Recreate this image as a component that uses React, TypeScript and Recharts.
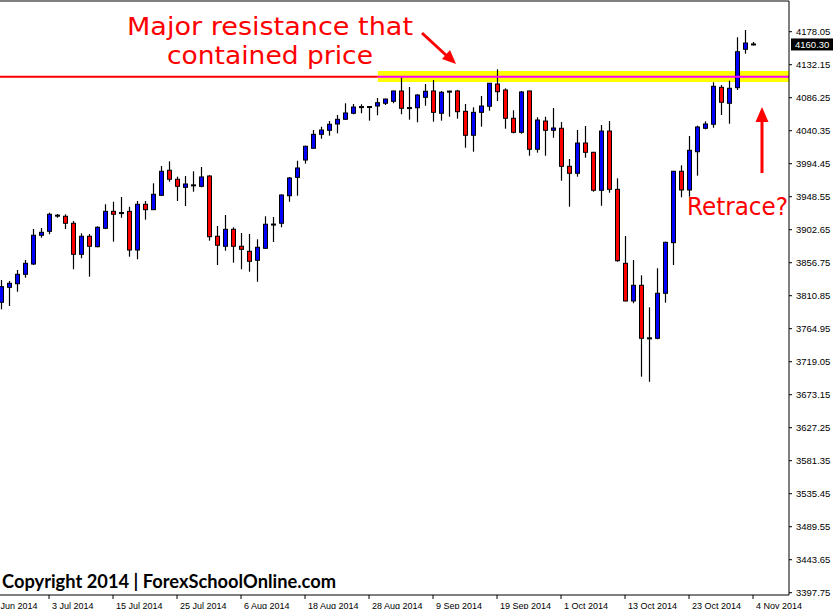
import React from "react";
import {
  ComposedChart,
  Bar,
  XAxis,
  YAxis,
  ReferenceLine,
  ReferenceArea,
} from "recharts";

// daily bars, 25 Jun 2014 - 4 Nov 2014
const dates = [
  "25 Jun 2014", "26 Jun 2014", "27 Jun 2014", "30 Jun 2014", "1 Jul 2014",
  "2 Jul 2014", "3 Jul 2014", "4 Jul 2014", "7 Jul 2014", "8 Jul 2014",
  "9 Jul 2014", "10 Jul 2014", "11 Jul 2014", "14 Jul 2014", "15 Jul 2014",
  "16 Jul 2014", "17 Jul 2014", "18 Jul 2014", "21 Jul 2014", "22 Jul 2014",
  "23 Jul 2014", "24 Jul 2014", "25 Jul 2014", "28 Jul 2014", "29 Jul 2014",
  "30 Jul 2014", "31 Jul 2014", "1 Aug 2014", "4 Aug 2014", "5 Aug 2014",
  "6 Aug 2014", "7 Aug 2014", "8 Aug 2014", "11 Aug 2014", "12 Aug 2014",
  "13 Aug 2014", "14 Aug 2014", "15 Aug 2014", "18 Aug 2014", "19 Aug 2014",
  "20 Aug 2014", "21 Aug 2014", "22 Aug 2014", "25 Aug 2014", "26 Aug 2014",
  "27 Aug 2014", "28 Aug 2014", "29 Aug 2014", "1 Sep 2014", "2 Sep 2014",
  "3 Sep 2014", "4 Sep 2014", "5 Sep 2014", "8 Sep 2014", "9 Sep 2014",
  "10 Sep 2014", "11 Sep 2014", "12 Sep 2014", "15 Sep 2014", "16 Sep 2014",
  "17 Sep 2014", "18 Sep 2014", "19 Sep 2014", "22 Sep 2014", "23 Sep 2014",
  "24 Sep 2014", "25 Sep 2014", "26 Sep 2014", "29 Sep 2014", "30 Sep 2014",
  "1 Oct 2014", "2 Oct 2014", "3 Oct 2014", "6 Oct 2014", "7 Oct 2014",
  "8 Oct 2014", "9 Oct 2014", "10 Oct 2014", "13 Oct 2014", "14 Oct 2014",
  "15 Oct 2014", "16 Oct 2014", "17 Oct 2014", "20 Oct 2014", "21 Oct 2014",
  "22 Oct 2014", "23 Oct 2014", "24 Oct 2014", "27 Oct 2014", "28 Oct 2014",
  "29 Oct 2014", "30 Oct 2014", "31 Oct 2014", "3 Nov 2014", "4 Nov 2014",
];

const opens = [
  3801.7, 3822.5, 3827.5, 3840.6, 3854.9, 3894.9, 3900.4, 3922.7, 3921.3, 3911.6,
  3868.4, 3893.5, 3879.0, 3904.6, 3928.2, 3926.0, 3928.2, 3874.4, 3938.0, 3930.5,
  3950.5, 3985.3, 3972.8, 3961.6, 3964.6, 3963.0, 3977.3, 3893.5, 3879.6, 3903.2,
  3879.6, 3872.6, 3860.1, 3876.8, 3910.0, 3911.6, 3949.9, 3975.5, 3999.6, 4015.9,
  4035.3, 4040.9, 4049.7, 4056.2, 4064.6, 4073.5, 4074.0, 4074.7, 4078.5, 4081.2,
  4095.6, 4072.1, 4072.3, 4086.8, 4095.6, 4064.6, 4095.0, 4095.6, 4067.3, 4034.0,
  4065.9, 4074.3, 4105.3, 4097.0, 4057.6, 4038.1, 4095.6, 4014.5, 4053.8, 4040.9,
  4043.7, 3990.8, 3981.1, 4023.2, 4010.3, 3957.5, 4039.9, 3958.8, 3855.9, 3803.5,
  3825.3, 3751.8, 3751.6, 3814.2, 3884.6, 3983.9, 3957.9, 4011.1, 4043.7, 4049.3,
  4100.7, 4078.5, 4100.2, 4153.6, 4161.0,
];

const highs = [
  3832.7, 3831.3, 3846.6, 3860.5, 3903.6, 3905.0, 3926.3, 3924.5, 3924.1, 3914.8,
  3897.6, 3896.7, 3907.4, 3938.0, 3941.6, 3948.1, 3934.6, 3942.6, 3942.6, 3967.2,
  3991.3, 3997.8, 3976.4, 3977.3, 3983.9, 3989.9, 3978.5, 3907.8, 3923.1, 3906.0,
  3898.1, 3896.7, 3889.3, 3921.3, 3920.3, 3951.9, 3976.0, 3998.6, 4019.5, 4041.3,
  4045.9, 4053.8, 4062.2, 4078.5, 4077.5, 4077.1, 4074.5, 4085.8, 4084.8, 4096.0,
  4114.6, 4101.1, 4091.0, 4105.3, 4110.9, 4095.6, 4096.0, 4097.0, 4077.5, 4072.9,
  4088.6, 4106.8, 4125.8, 4099.3, 4068.7, 4095.6, 4096.0, 4059.0, 4059.8, 4071.9,
  4052.5, 4001.0, 4041.3, 4046.9, 4011.0, 4048.3, 4053.8, 3974.1, 3893.9, 3860.5,
  3839.2, 3794.7, 3849.0, 3886.0, 3984.5, 3992.2, 4033.0, 4047.3, 4053.4, 4107.7,
  4103.9, 4109.9, 4170.3, 4180.4, 4163.7,
];

const lows = [
  3791.9, 3796.5, 3816.4, 3835.9, 3853.5, 3891.5, 3896.3, 3919.3, 3903.6, 3847.6,
  3862.9, 3837.3, 3878.2, 3903.5, 3886.0, 3919.3, 3865.1, 3861.5, 3916.6, 3930.0,
  3949.5, 3969.4, 3942.6, 3935.6, 3955.5, 3961.6, 3887.4, 3853.5, 3873.4, 3856.8,
  3847.6, 3844.2, 3830.3, 3876.0, 3885.5, 3906.0, 3941.6, 3949.9, 3994.5, 4015.5,
  4029.2, 4033.4, 4036.7, 4055.2, 4063.2, 4064.6, 4054.3, 4061.8, 4076.1, 4078.5,
  4063.2, 4055.7, 4052.0, 4075.1, 4052.9, 4054.3, 4059.8, 4057.0, 4016.7, 4011.1,
  4045.9, 4068.2, 4081.6, 4043.1, 4036.7, 4036.2, 4005.6, 4009.8, 4005.6, 4030.6,
  3970.8, 3934.6, 3976.4, 4002.8, 3955.5, 3936.0, 3954.1, 3858.1, 3803.0, 3800.3,
  3698.2, 3691.2, 3750.2, 3801.1, 3853.5, 3947.7, 3948.6, 3977.8, 4042.3, 4044.5,
  4062.2, 4050.1, 4097.0, 4147.5, 4159.1,
];

const closes = [
  3823.4, 3828.1, 3840.6, 3855.9, 3894.9, 3899.0, 3924.1, 3922.9, 3911.6, 3868.4,
  3893.5, 3879.6, 3906.0, 3928.2, 3924.1, 3926.5, 3874.4, 3938.0, 3930.5, 3951.9,
  3983.9, 3972.8, 3963.0, 3966.2, 3965.0, 3976.0, 3892.9, 3881.0, 3903.2, 3879.6,
  3875.4, 3858.7, 3878.2, 3910.2, 3910.5, 3950.9, 3974.6, 3988.5, 4018.7, 4035.3,
  4041.3, 4049.3, 4056.2, 4065.0, 4073.3, 4073.9, 4073.2, 4079.3, 4084.4, 4095.6,
  4071.5, 4072.5, 4090.0, 4095.2, 4065.9, 4093.8, 4095.4, 4066.8, 4034.0, 4065.9,
  4074.7, 4106.3, 4094.6, 4057.6, 4038.1, 4094.2, 4014.5, 4055.2, 4040.9, 4044.1,
  3990.8, 3981.1, 4023.2, 4010.3, 3957.5, 4039.9, 3958.8, 3859.5, 3803.5, 3825.3,
  3751.6, 3752.2, 3814.2, 3885.1, 3983.9, 3957.9, 4013.1, 4045.5, 4049.7, 4102.1,
  4079.9, 4099.3, 4150.2, 4162.3, 4160.3,
];

const yTicks = [
  3397.75, 3443.65, 3489.55, 3535.45, 3581.35, 3627.25, 3673.15, 3719.05, 3764.95,
  3810.85, 3856.75, 3902.65, 3948.55, 3994.45, 4040.35, 4086.25, 4132.15, 4178.05,
];

const xTickLabels = [
  "23 Jun 2014", "3 Jul 2014", "15 Jul 2014", "25 Jul 2014", "6 Aug 2014",
  "18 Aug 2014", "28 Aug 2014", "9 Sep 2014", "19 Sep 2014", "1 Oct 2014",
  "13 Oct 2014", "23 Oct 2014", "4 Nov 2014",
];

const lastPrice = 4160.3;
const resistance = 4115.5;
const zoneLow = 4108.1;
const zoneHigh = 4123.4;
const zoneStart = 47.1; // bar position where the highlighted zone starts

const xDomain = [-0.125, 98.5];
const yDomain = [3394.55, 4220.75];

// one label every 8 bars, first one is two bars before the first visible candle
const xTicks = xTickLabels.map((_, i) => (i - 1) * 8 + 6);

const candles = dates.map((d, i) => ({
  i,
  date: d,
  open: opens[i],
  high: highs[i],
  low: lows[i],
  close: closes[i],
}));

const Candle = (props: any) => {
  const { x, y, width, height, payload } = props;
  if (!payload || height == null) return null;
  const { open, high, low, close } = payload;
  const cx = Math.round(x + width / 2) + 0.5;
  const k = high > low ? height / (high - low) : 0;
  const yO = y + (high - open) * k;
  const yC = y + (high - close) * k;
  const top = Math.min(yO, yC);
  const h = Math.max(Math.abs(yO - yC), 1);
  const fill = close > open ? "#0000ff" : close < open ? "#ff0000" : "#000000";
  return (
    <g>
      <line x1={cx} x2={cx} y1={y} y2={y + height} stroke="#000" strokeWidth={1.2} />
      <rect x={cx - 2} y={top} width={4} height={h} fill={fill} stroke="#000" strokeWidth={1} />
    </g>
  );
};

const DateTick = (props: any) => {
  const { x, y, payload } = props;
  const label = xTickLabels[xTicks.indexOf(payload.value)];
  return (
    <text x={x + 3} y={y + 7.5} fontSize={9} fontFamily="Liberation Sans" fill="#000" textAnchor="start">
      {label}
    </text>
  );
};

const PriceTick = (props: any) => {
  const { x, y, payload } = props;
  return (
    <text x={x} y={y + 3.5} fontSize={9.5} fontFamily="Liberation Sans" fill="#000" textAnchor="start">
      {Number(payload.value).toFixed(2)}
    </text>
  );
};

const PriceTag = (props: any) => {
  const vb = props.viewBox || {};
  const x = (vb.x || 0) + (vb.width || 0) + 2;
  const y = vb.y || 0;
  return (
    <g>
      <rect x={x} y={y - 6} width={44} height={12} fill="#000" />
      <text x={x + 4} y={y + 3.5} fontSize={9.5} fontFamily="Liberation Sans" fill="#fff">
        {lastPrice.toFixed(2)}
      </text>
    </g>
  );
};

const App = () => {
  return (
    <div style={{ position: "absolute", left: 0, top: 0, width: 833, height: 609, background: "#fff" }}>
      <ComposedChart
        width={833}
        height={609}
        data={candles}
        margin={{ top: 1, right: 0, bottom: 0, left: 0 }}
      >
        <XAxis
          dataKey="i"
          type="number"
          domain={xDomain}
          allowDataOverflow
          ticks={xTicks}
          interval={0}
          tick={<DateTick />}
          tickSize={4}
          height={14}
          axisLine={{ stroke: "#000" }}
          tickLine={{ stroke: "#000" }}
        />
        <YAxis
          orientation="right"
          type="number"
          domain={yDomain}
          allowDataOverflow
          ticks={yTicks}
          interval={0}
          width={44}
          tickSize={3}
          tickMargin={4}
          tick={<PriceTick />}
          axisLine={{ stroke: "#000" }}
          tickLine={{ stroke: "#000" }}
        />
        <ReferenceLine y={yDomain[1]} stroke="#000" />
        <ReferenceArea
          x1={zoneStart}
          x2={xDomain[1]}
          y1={zoneLow}
          y2={zoneHigh}
          fill="#ffff00"
          fillOpacity={1}
          stroke="none"
        />
        <ReferenceLine
          segment={[
            { x: xDomain[0], y: resistance },
            { x: zoneStart, y: resistance },
          ]}
          stroke="#ff0000"
          strokeWidth={2}
        />
        <ReferenceLine
          segment={[
            { x: zoneStart, y: resistance },
            { x: xDomain[1], y: resistance },
          ]}
          stroke="#ff00ff"
          strokeWidth={2}
        />
        <Bar
          dataKey={(d: any) => [d.low, d.high]}
          barSize={5}
          shape={(p: any) => <Candle {...p} />}
          isAnimationActive={false}
        />
        <ReferenceLine y={lastPrice} stroke="none" label={(p: any) => <PriceTag {...p} />} />
      </ComposedChart>

      <svg
        width={833}
        height={609}
        style={{ position: "absolute", left: 0, top: 0, pointerEvents: "none" }}
      >
        <g fill="#ff0000" fontFamily="DejaVu Sans" fontSize={25}>
          <text x={127} y={35} textLength={286} lengthAdjust="spacingAndGlyphs">
            Major resistance that
          </text>
          <text x={167} y={64} textLength={206} lengthAdjust="spacingAndGlyphs">
            contained price
          </text>
          <text x={687} y={215} textLength={101} lengthAdjust="spacingAndGlyphs">
            Retrace?
          </text>
        </g>
        <line x1={422} y1={33} x2={448} y2={57} stroke="#ff0000" strokeWidth={3} />
        <polygon points="456,64 442,59 450,50" fill="#ff0000" />
        <line x1={762} y1={173} x2={762} y2={118} stroke="#ff0000" strokeWidth={3} />
        <polygon points="762,107 755.5,122 768.5,122" fill="#ff0000" />
        <text
          x={2}
          y={588}
          fontFamily="Lato"
          fontWeight={700}
          fontSize={18}
          fill="#000"
          textLength={334}
          lengthAdjust="spacingAndGlyphs"
        >
          Copyright 2014 | ForexSchoolOnline.com
        </text>
      </svg>
    </div>
  );
};

export default App;
